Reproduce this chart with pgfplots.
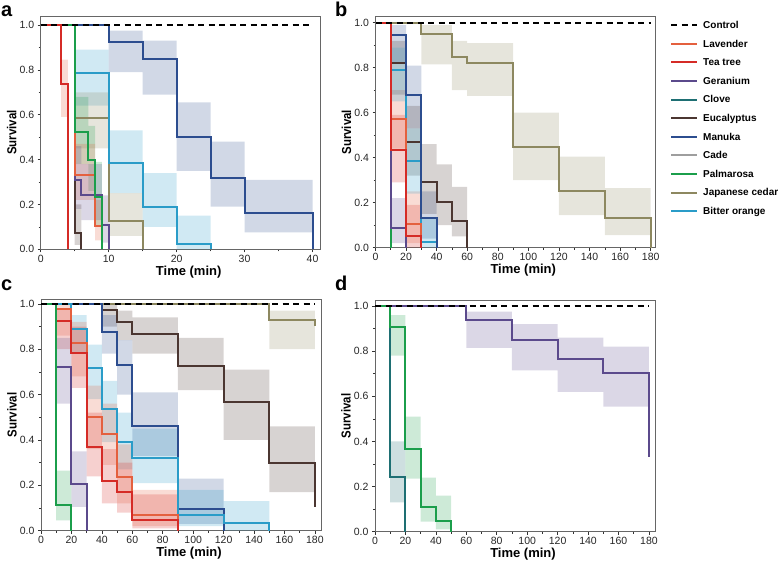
\documentclass[border=0pt]{standalone}
\usepackage{pgfplots}
\pgfplotsset{compat=1.18}
\usepgfplotslibrary{fillbetween}
\usepackage{graphicx}
\usepackage{fontspec}
\setmainfont{Liberation Sans}
\definecolor{cLav}{HTML}{E4603E}
\definecolor{cTea}{HTML}{D52B26}
\definecolor{cGer}{HTML}{5B4A8C}
\definecolor{cClo}{HTML}{1E6F73}
\definecolor{cEuc}{HTML}{4B3631}
\definecolor{cMan}{HTML}{2C4D8F}
\definecolor{cCad}{HTML}{9E9E9E}
\definecolor{cPal}{HTML}{1B9E4B}
\definecolor{cJap}{HTML}{8D8860}
\definecolor{cBit}{HTML}{2A9CC8}
\newcommand{\km}[2]{\addplot[const plot, #1, line width=2pt, forget plot] coordinates {#2};}
\newcommand{\band}[4]{%
\addplot[const plot, draw=none, name path=#2u, forget plot] coordinates {#3};
\addplot[const plot, draw=none, name path=#2l, forget plot] coordinates {#4};
\addplot[fill=#1, fill opacity=0.22, draw=none, forget plot] fill between[of=#2u and #2l];}
\newcommand{\ctrl}[1]{\addplot[black, line width=1.8pt, dash pattern=on 6pt off 4.5pt, forget plot] coordinates {(0,1) (#1,1)};}
\pgfplotsset{kmaxis/.style={
  scale only axis, ymin=0, xmin=0,
  ytick={0,0.2,0.4,0.6,0.8,1.0},
  yticklabel style={/pgf/number format/fixed, /pgf/number format/fixed zerofill, /pgf/number format/precision=1},
  minor y tick num=1, minor x tick num=1,
  tick align=outside, tick pos=left,
  major tick length=3pt, minor tick length=2pt,
  tick style={black!80, line width=0.6pt},
  axis line style={gray!80!black, line width=0.6pt},
  /pgf/number format/assume math mode=true,
  tick label style={font=\fontsize{10.5}{12}\selectfont, color=black!85},
  xticklabel style={yshift=1pt},
  label style={font=\bfseries\fontsize{13}{15}\selectfont},
  xlabel={Time (min)}, ylabel={\scalebox{0.88}[1]{Survival}},
  xlabel style={at={(axis description cs:0.5,0)}, anchor=center, yshift=-22.5pt, xshift=8pt},
  ylabel style={at={(axis description cs:-0.1036,0.5)}, anchor=center},
}}
\begin{document}
\begin{tikzpicture}[x=1pt,y=1pt]
% ---------------- panel a
\begin{axis}[kmaxis, at={(40.7pt,315.7pt)}, anchor=south west, width=280pt, height=233.3pt,
  xmax=41.2, ymax=1.04, xtick={0,10,20,30,40}]
\band{cMan}{aman}{(10,0.975)(15,0.93)(20,0.655)(25,0.48)(30,0.31)(40,0.31)}{(10,0.79)(15,0.69)(20,0.35)(25,0.19)(30,0.075)(40,0.075)}
\band{cBit}{abit}{(5,0.89)(10,0.53)(15,0.34)(20,0.15)(25,0.15)}{(5,0.64)(10,0.25)(15,0.10)(20,0)(25,0)}
\band{cJap}{ajap}{(5,0.70)(10,0.25)(15,0.25)}{(5,0.45)(10,0.06)(15,0.06)}
\band{cPal}{apal}{(5,0.68)(7,0.55)(8,0.39)(9,0.39)}{(5,0.38)(7,0.26)(8,0.10)(9,0.10)}
\band{cLav}{alav}{(5,0.47)(8,0.22)(9,0.22)}{(5,0.22)(8,0.04)(9,0.04)}
\band{cGer}{ager}{(5,0.46)(6,0.38)(9,0.24)(10,0.24)}{(5,0.18)(6,0.13)(9,0.03)(10,0.03)}
\band{cEuc}{aeuc}{(5,0.20)(6,0.20)}{(5,0.02)(6,0.02)}
\band{cLav}{atea}{(3,0.845)(4,0.845)}{(3,0.59)(4,0.59)}
\km{cJap}{(0,1)(5,0.586)(10,0.126)(15,0)}
\km{cEuc}{(0,1)(5,0.074)(6,0)}
\km{cGer}{(0,1)(5,0.31)(6,0.24)(9,0.11)(10,0)}
\km{cLav}{(0,1)(5,0.333)(8,0.104)(9,0)}
\km{cBit}{(0,1)(5,0.787)(10,0.383)(15,0.19)(20,0.024)(25,0)}
\km{cMan}{(0,1)(10,0.925)(15,0.847)(20,0.502)(25,0.316)(30,0.16)(40,0)}
\km{cPal}{(0,1)(5,0.524)(7,0.397)(8,0.232)(9,0)}
\km{cTea}{(0,1)(3,0.735)(4,0)}
\ctrl{40}
\end{axis}
% ---------------- panel b
\begin{axis}[kmaxis, at={(375.5pt,317.3pt)}, anchor=south west, width=279.5pt, height=231pt,
  xmax=182.8, ymax=1.027, xtick={0,20,...,180},
  legend style={at={(axis description cs:1,1)}, anchor=north west, xshift=15pt, yshift=-4.5pt,
    draw=none, fill=none, inner sep=0pt, row sep=9.4pt, column sep=5pt,
    nodes={inner sep=0pt, text height=7.2pt, text depth=2pt, anchor=base west},
    font=\bfseries\fontsize{10}{12}\selectfont},
  legend cell align=left,
  legend image code/.code={\draw[#1] (0pt,3.3pt) -- (26pt,3.3pt);}]
\band{cJap}{bjap}{(30,0.99)(50,0.92)(60,0.91)(90,0.60)(120,0.405)(150,0.265)(180,0.265)}{(30,0.815)(50,0.70)(60,0.675)(90,0.30)(120,0.145)(150,0.056)(180,0.056)}
\band{cTea}{btea}{(10,0.59)(20,0.19)(30,0.19)}{(10,0.29)(20,0)(30,0)}
\band{cLav}{blav}{(10,0.70)(20,0.25)(30,0.25)}{(10,0.44)(20,0.02)(30,0.02)}
\band{cMan}{bman}{(10,0.99)(20,0.81)(30,0.25)(40,0.25)}{(10,0.82)(20,0.53)(30,0.04)(40,0.04)}
\band{cEuc}{beuc}{(10,0.92)(20,0.63)(30,0.46)(40,0.37)(50,0.27)(60,0.27)}{(10,0.68)(20,0.32)(30,0.15)(40,0.10)(50,0.05)(60,0.05)}
\band{cBit}{bbit}{(10,0.89)(20,0.53)(30,0.13)(40,0.13)}{(10,0.65)(20,0.24)(30,0)(40,0)}
\band{cGer}{bger}{(10,0.22)(20,0.22)}{(10,0.02)(20,0.02)}
\km{cPal}{(0,1)(10,0)}
\km{cGer}{(0,1)(10,0.089)(20,0)}
\km{cEuc}{(0,1)(10,0.822)(20,0.468)(30,0.293)(40,0.204)(50,0.12)(60,0)}
\km{cBit}{(0,1)(10,0.79)(20,0.384)(30,0.025)(40,0)}
\km{cMan}{(0,1)(10,0.945)(20,0.681)(30,0.13)(40,0)}
\km{cLav}{(0,1)(10,0.572)(20,0.104)(30,0)}
\km{cJap}{(0,1)(30,0.948)(50,0.846)(60,0.822)(90,0.449)(120,0.25)(150,0.13)(180,0)}
\km{cTea}{(0,1)(10,0.434)(20,0.052)(30,0)}
\ctrl{180}
\addlegendimage{black, line width=1.8pt, dash pattern=on 6pt off 4.5pt}\addlegendentry{Control}
\addlegendimage{cLav, line width=2pt}\addlegendentry{Lavender}
\addlegendimage{cTea, line width=2pt}\addlegendentry{Tea tree}
\addlegendimage{cGer, line width=2pt}\addlegendentry{Geranium}
\addlegendimage{cClo, line width=2pt}\addlegendentry{Clove}
\addlegendimage{cEuc, line width=2pt}\addlegendentry{Eucalyptus}
\addlegendimage{cMan, line width=2pt}\addlegendentry{Manuka}
\addlegendimage{cCad, line width=2pt}\addlegendentry{Cade}
\addlegendimage{cPal, line width=2pt}\addlegendentry{Palmarosa}
\addlegendimage{cJap, line width=2pt}\addlegendentry{Japanese cedar}
\addlegendimage{cBit, line width=2pt}\addlegendentry{Bitter orange}
\end{axis}
% ---------------- panel c
\begin{axis}[kmaxis, at={(41pt,34.3pt)}, anchor=south west, width=280pt, height=231.4pt,
  xmax=184, ymax=1.02, xtick={0,20,...,180}]
\band{cEuc}{ceuc}{(40,0.995)(50,0.97)(60,0.94)(90,0.85)(120,0.71)(150,0.46)(180,0.46)}{(40,0.90)(50,0.84)(60,0.78)(90,0.62)(120,0.40)(150,0.17)(180,0.17)}
\band{cJap}{cjap}{(150,0.97)(180,0.97)}{(150,0.80)(180,0.80)}
\band{cMan}{cman}{(40,0.95)(50,0.84)(60,0.61)(90,0.23)(120,0.23)}{(40,0.78)(50,0.60)(60,0.33)(90,0.03)(120,0.03)}
\band{cBit}{cbit}{(20,0.95)(30,0.82)(40,0.66)(50,0.52)(60,0.45)(90,0.18)(120,0.13)(150,0.13)}{(20,0.78)(30,0.58)(40,0.39)(50,0.27)(60,0.21)(90,0.02)(120,0)(150,0)}
\band{cLav}{clav}{(10,0.995)(20,0.92)(30,0.64)(40,0.56)(50,0.38)(60,0.18)(90,0.18)}{(10,0.86)(20,0.68)(30,0.36)(40,0.29)(50,0.12)(60,0.02)(90,0.02)}
\band{cTea}{ctea}{(10,0.98)(20,0.90)(30,0.52)(40,0.36)(50,0.30)(60,0.16)(90,0.16)}{(10,0.80)(20,0.63)(30,0.24)(40,0.12)(50,0.08)(60,0.01)(90,0.01)}
\band{cGer}{cger}{(10,0.85)(20,0.35)(30,0.35)}{(10,0.56)(20,0.105)(30,0.105)}
\band{cPal}{cpal}{(10,0.265)(20,0.265)}{(10,0.045)(20,0.045)}
\km{cJap}{(0,1)(150,0.929)(180,0.904)}
\km{cEuc}{(0,1)(40,0.974)(50,0.919)(60,0.866)(90,0.728)(120,0.566)(150,0.297)(180,0.106)}
\km{cMan}{(0,1)(40,0.878)(50,0.73)(60,0.463)(90,0.096)(120,0)}
\km{cBit}{(0,1)(20,0.89)(30,0.715)(40,0.535)(50,0.393)(60,0.319)(90,0.069)(120,0.032)(150,0)}
\km{cLav}{(0,1)(10,0.976)(20,0.826)(30,0.5)(40,0.426)(50,0.235)(60,0.069)(90,0)}
\km{cTea}{(0,1)(10,0.925)(20,0.785)(30,0.37)(40,0.22)(50,0.172)(60,0.047)(90,0)}
\km{cGer}{(0,1)(10,0.72)(20,0.204)(30,0)}
\km{cPal}{(0,1)(10,0.115)(20,0)}
\ctrl{180}
\end{axis}
% ---------------- panel d
\begin{axis}[kmaxis, at={(375pt,33.3pt)}, anchor=south west, width=280pt, height=231.7pt,
  xmax=184, ymax=1.027, xtick={0,20,...,180}]
\band{cGer}{dger}{(60,0.975)(90,0.92)(120,0.86)(150,0.82)(180,0.82)}{(60,0.815)(90,0.715)(120,0.62)(150,0.554)(180,0.554)}
\band{cClo}{dclo}{(10,0.40)(20,0.40)}{(10,0.13)(20,0.13)}
\band{cPal}{dpal}{(10,0.96)(20,0.51)(30,0.24)(40,0.16)(50,0.16)}{(10,0.78)(20,0.235)(30,0.045)(40,0.01)(50,0.01)}
\km{cGer}{(0,1)(60,0.938)(90,0.849)(120,0.764)(150,0.705)(180,0.33)}
\km{cClo}{(0,1)(10,0.241)(20,0)}
\km{cPal}{(0,1)(10,0.908)(20,0.365)(30,0.111)(40,0.046)(50,0)}
\ctrl{180}
\end{axis}
\node[anchor=base west, inner sep=0pt, font=\bfseries\fontsize{20}{20}\selectfont] at (1pt,548pt) {a};
\node[anchor=base west, inner sep=0pt, font=\bfseries\fontsize{20}{20}\selectfont] at (335pt,548pt) {b};
\node[anchor=base west, inner sep=0pt, font=\bfseries\fontsize{20}{20}\selectfont] at (1pt,274.3pt) {c};
\node[anchor=base west, inner sep=0pt, font=\bfseries\fontsize{20}{20}\selectfont] at (335pt,274.3pt) {d};
\pgfresetboundingbox
\path[use as bounding box] (0pt,0pt) rectangle (778pt,565pt);
\end{tikzpicture}
\end{document}
